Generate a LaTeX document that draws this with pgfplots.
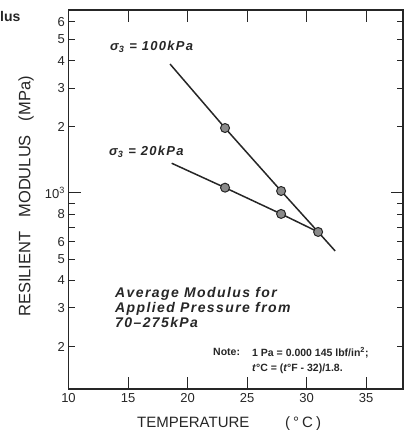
\documentclass[border=0pt]{standalone}
\usepackage{fontspec}
\setmainfont{Liberation Sans}
\newfontfamily\wide[LetterSpace=10]{Liberation Sans}
\newfontfamily\paren[LetterSpace=20]{Liberation Sans}
\usepackage{pgfplots}
\pgfplotsset{compat=1.18}
\definecolor{ink}{HTML}{262626}
\definecolor{dotfill}{HTML}{8A8A8A}
\begin{document}
\begin{tikzpicture}[x=1pt,y=1pt]
\path[use as bounding box] (0,0) rectangle (406,430);
\begin{axis}[
  scale only axis, width=334.5pt, height=379pt,
  at={(68.5pt,41pt)}, anchor=south west,
  xmin=10, xmax=38.1, ymode=log, ymin=128.5, ymax=6790,
  axis line style={ink, line width=1.2pt},
  tick style={ink, line width=1pt},
  major tick length=6pt,
  xtick=\empty,
  extra x ticks={10,15,20,25,30,35},
  extra x tick style={major tick length=12pt},
  ytick={200,300,400,500,600,700,800,900,2000,3000,4000,5000,6000},
  yticklabels={2,3,4,5,6,,8,,2,3,4,5,6},
  extra y ticks={1000},
  extra y tick labels={10\textsuperscript{3}},
  extra y tick style={major tick length=12pt},
  minor tick num=0,
  /pgf/number format/assume math mode=true,
  ticklabel style={font=\fontsize{13}{15}\selectfont, text=ink},
  xticklabel style={yshift=-1pt},
  clip=false,
]
\addplot[ink, line width=1.5pt] coordinates {(18.53,3856) (23.15,1974) (27.86,1021) (30.97,665) (32.4,545)};
\addplot[ink, line width=1.5pt] coordinates {(18.67,1365) (23.15,1057) (27.86,803) (30.97,665)};
\addplot[only marks, mark=*, mark size=4.5pt, mark options={fill=dotfill, draw=ink, line width=1pt}] coordinates {(23.15,1974) (27.86,1021) (30.97,665) (23.15,1057) (27.86,803)};
\end{axis}
\node[anchor=west, inner sep=0, font=\bfseries\fontsize{14}{16}\selectfont, text=ink] at (0,413) {lus};
\node[anchor=west, inner sep=0, font=\wide\bfseries\itshape\fontsize{13}{15}\selectfont, text=ink] at (110,383) {σ\textsubscript{3} = 100kPa};
\node[anchor=west, inner sep=0, font=\wide\bfseries\itshape\fontsize{13}{15}\selectfont, text=ink] at (109,278) {σ\textsubscript{3} = 20kPa};
\node[anchor=west, inner sep=0, align=left, font=\wide\bfseries\itshape\fontsize{14}{15}\selectfont, text=ink] at (115,123) {Average Modulus for\\Applied Pressure from\\70–275kPa};
\node[anchor=west, inner sep=0, font=\bfseries\fontsize{10.5}{15}\selectfont, text=ink] at (213,78) {Note:};
\node[anchor=north west, inner sep=0, align=left, font=\bfseries\fontsize{10.5}{15}\selectfont, text=ink] at (252,83) {1 Pa = 0.000 145 lbf/in\textsuperscript{2};\\\textit{t}°C = (\textit{t}°F - 32)/1.8.};
\node[anchor=base west, inner sep=0, font=\fontsize{15}{17}\selectfont, text=ink] at (137,2.3) {TEMPERATURE};
\node[anchor=base west, inner sep=0, font=\paren\fontsize{15}{17}\selectfont, text=ink] at (285,2.3) {(°C)};
\node[rotate=90, inner sep=0, font=\fontsize{16.5}{18}\selectfont, text=ink] at (26,233.5) {RESILIENT\hspace{14pt}MODULUS\hspace{14pt}(MPa)};
\end{tikzpicture}
\end{document}
